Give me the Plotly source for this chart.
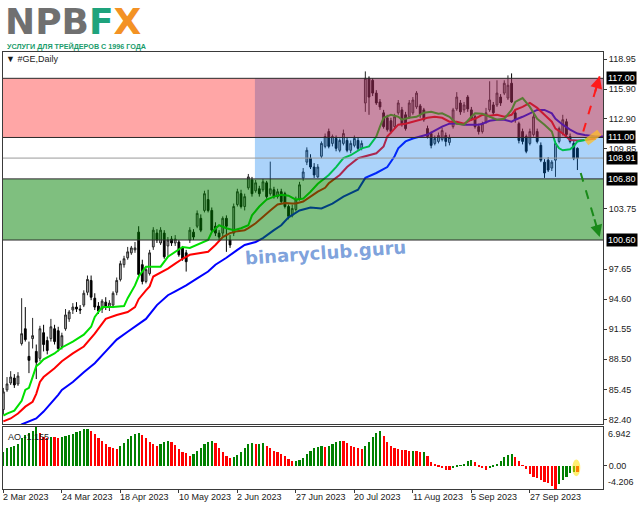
import plotly.graph_objects as go

# ---------------- data ----------------
OPEN = [83.4,85.4,86.1,86.6,86.0,90.1,91.6,88.8,90.6,89.3,
        88.6,91.2,90.4,90.6,91.6,91.4,89.8,91.6,92.6,93.5,
        93.8,93.6,94.0,95.3,96.5,94.7,93.9,93.6,94.3,93.8,
        94.0,95.3,96.6,98.1,98.8,99.3,99.6,101.4,98.1,96.4,
        97.2,99.9,101.3,100.3,101.3,100.0,100.7,100.3,100.4,99.8,
        99.3,100.6,101.4,102.0,102.8,103.6,104.7,103.6,102.0,101.3,
        101.3,102.8,100.6,101.3,104.2,105.3,104.0,105.9,106.7,105.6,
        105.8,105.7,106.4,105.3,105.7,105.0,105.5,105.3,104.0,103.1,
        103.7,104.8,106.9,108.5,108.9,108.0,107.0,109.1,110.1,111.6,
        110.4,110.9,109.7,110.4,110.7,109.7,110.2,110.7,109.9,114.5,
        117.0,116.8,115.5,114.6,113.5,113.0,112.7,112.1,113.5,113.8,
        113.3,113.1,113.5,114.1,114.2,113.8,111.9,111.4,110.4,110.6,
        110.8,111.2,110.5,112.1,113.9,114.5,113.8,115.1,113.8,113.1,
        112.1,111.6,112.6,113.8,114.3,114.3,115.1,115.5,115.0,116.5,
        113.5,112.4,111.6,111.1,110.4,111.3,111.6,110.2,108.5,108.7,
        107.9,108.7,110.6,111.4,112.6,111.1,110.4,109.9]
HIGH = [85.6,86.7,87.3,87.0,87.2,94.7,93.8,90.3,92.7,90.0,
        91.9,92.0,90.8,92.6,92.0,91.8,91.2,93.6,93.5,94.2,
        94.3,94.0,95.5,97.0,97.0,95.2,94.3,94.6,94.8,94.5,
        95.4,96.8,98.5,99.0,99.9,100.0,100.4,102.0,98.6,97.9,
        99.6,101.9,101.7,101.9,101.6,100.9,101.0,101.1,100.6,100.0,
        99.6,101.9,101.7,103.6,103.2,105.6,105.7,103.9,102.4,101.6,
        103.0,103.1,101.1,104.3,105.8,105.7,105.3,107.3,107.0,106.7,
        106.1,106.8,106.6,108.55,106.0,105.8,105.8,105.5,104.2,104.2,
        105.0,106.5,107.9,110.0,109.3,108.4,108.3,110.6,111.4,111.9,
        111.3,111.2,110.9,111.8,111.0,110.7,111.2,111.0,110.7,117.7,
        117.2,117.0,115.8,114.9,113.8,113.3,113.0,113.4,114.8,114.1,
        113.6,114.8,115.1,115.7,114.4,114.0,112.2,111.6,111.2,111.5,
        112.0,111.5,111.3,114.0,115.6,114.8,114.6,115.3,114.1,113.3,
        112.4,112.6,114.0,116.7,114.6,116.8,115.4,116.8,117.3,117.5,
        113.8,112.6,111.9,111.3,111.9,113.4,111.9,110.5,108.8,109.0,
        108.7,110.6,112.1,113.3,112.9,111.4,110.7,110.0]
LOW = [82.9,85.2,85.9,85.6,85.8,89.9,90.3,87.1,89.6,86.5,
       88.3,89.3,89.0,90.3,90.0,89.3,89.5,91.4,92.3,93.1,
       93.3,93.1,93.8,95.0,94.5,93.5,93.1,93.2,93.5,93.4,
       93.7,95.0,96.4,97.8,98.6,99.1,99.3,96.8,96.1,96.2,
       97.0,99.6,100.3,100.1,98.7,99.0,100.0,100.0,98.9,98.5,
       97.4,100.3,100.6,101.8,101.4,103.4,103.4,101.4,101.0,100.6,
       101.0,99.4,99.8,101.0,104.0,103.8,103.6,105.7,105.0,105.4,
       105.0,105.5,104.8,105.1,104.8,104.8,104.3,103.8,102.7,102.9,
       103.5,104.6,106.6,108.2,107.8,106.9,106.9,108.9,109.9,109.9,
       110.1,109.6,109.5,110.2,109.5,109.4,110.0,109.7,109.7,113.6,
       113.3,115.2,114.3,113.8,111.9,111.6,111.4,111.9,113.3,112.1,
       111.7,112.9,113.3,113.9,113.0,112.6,110.9,109.9,110.2,110.4,
       110.6,110.1,110.2,111.9,113.7,113.3,113.5,113.6,112.7,111.9,
       111.3,111.4,112.4,113.6,113.2,114.1,114.2,115.3,114.8,114.5,
       112.5,110.4,110.3,109.4,110.2,111.1,110.4,108.5,106.9,107.5,
       107.6,107.0,110.4,111.2,111.1,110.4,108.7,107.7]
CLOSE = [85.2,86.0,86.7,85.9,86.8,91.1,90.5,88.4,90.9,88.2,
         91.6,90.0,89.4,91.8,90.3,89.6,90.9,93.0,93.3,93.8,
         93.6,93.5,95.2,96.6,94.8,93.8,93.4,94.4,93.8,94.2,
         95.2,96.5,98.2,98.7,99.4,99.8,99.8,97.1,96.4,97.6,
         99.3,101.6,100.6,101.6,98.9,100.6,100.3,100.7,99.1,98.7,
         98.4,101.6,100.9,103.3,101.6,105.3,103.6,101.6,101.3,100.9,
         102.8,102.0,100.1,104.0,105.5,104.0,105.0,107.0,105.3,106.4,
         105.3,106.5,105.0,105.8,105.0,105.5,104.5,104.0,103.0,103.8,
         104.7,106.2,107.5,109.7,108.0,107.2,108.0,110.4,111.1,110.1,
         111.1,109.9,110.7,111.4,109.7,110.4,110.9,109.9,110.4,117.0,
         115.1,115.5,114.5,114.1,112.1,111.8,111.6,113.1,114.5,112.3,
         111.9,114.5,114.8,115.5,113.4,112.8,111.1,110.2,110.9,111.2,
         111.7,110.6,111.0,113.8,115.1,113.6,114.3,113.9,112.9,112.1,
         111.6,112.4,113.5,114.8,113.5,115.5,114.5,116.5,116.3,114.6,
         112.8,110.7,110.6,109.6,111.6,113.1,110.6,108.7,107.4,107.7,
         108.5,110.4,111.9,112.8,111.3,110.6,108.9,108.91]

GREEN_BARS = [0,1,3,5,6,7,8,9,10,11,14,16,19,22,24,25,26,27,30,33,
              34,36,37,39,41,43,45,47,49,51,53,56,57,59,61,63,65,67,68,70,
              72,74,76,78,80,82,84,86,88,89,91,93,95,97,98,100,102,103,104,106,
              108,109,111,113,115,117,119,120,122,124,126,128,129,131,133,135,137,139,140,142,
              144,146,148,150,151,152,153,155,156,157,159,160]
GREEN_VALS = [82.8,83.0,83.3,84.3,85.4,85.6,86.7,87.8,88.1,88.5,89.1,89.7,90.3,91.0,91.8,92.8,93.3,93.8,93.8,93.9,
              94.7,96.0,96.9,97.9,97.9,97.9,98.9,99.4,99.9,99.8,100.1,100.6,101.4,102.1,101.8,101.6,101.8,102.1,103.1,104.0,
              104.7,105.0,105.2,105.1,104.7,104.8,105.5,106.3,106.9,107.2,108.0,108.9,109.2,109.7,109.9,110.1,111.1,112.1,113.0,113.3,
              113.1,112.8,113.0,113.1,113.5,113.6,113.4,113.45,113.1,112.4,112.3,113.1,113.45,113.4,113.1,112.8,112.9,113.8,114.6,115.0,
              114.1,112.9,112.3,111.6,110.4,109.9,109.7,109.8,110.1,110.6,110.75,110.9]

RED_BARS = [0,2,4,6,8,9,10,11,14,16,19,22,25,27,28,31,34,36,37,39,
            40,41,43,45,47,49,51,54,56,58,60,62,64,66,67,69,71,73,75,77,
            79,80,82,84,86,88,89,92,94,97,99,102,104,105,107,108,110,112,114,116,
            118,120,122,124,126,128,129,131,133,135,137,139,140,142,144,146,148,150,151,153,
            155,157,159,160,162]
RED_VALS = [82.2,82.5,83.0,83.7,84.2,85.0,86.2,86.7,87.6,88.3,89.1,89.8,91.1,92.1,92.6,93.0,93.3,93.8,94.6,95.5,
            95.9,96.9,97.3,97.7,98.2,98.7,99.1,99.25,99.4,100.1,100.9,101.3,101.5,101.6,101.8,102.3,103.0,103.6,104.2,104.35,
            104.3,104.3,104.5,105.0,105.5,105.9,106.35,107.2,108.0,108.9,109.1,109.4,110.1,111.1,111.9,112.3,112.4,112.6,112.8,113.0,
            113.1,113.0,112.6,112.6,112.4,112.8,112.9,113.3,113.2,113.3,113.1,113.3,113.8,114.1,114.5,114.0,113.3,112.6,111.9,111.4,
            110.75,110.7,110.75,110.8,110.9]

BLUE_BARS = [0,3,5,7,9,11,13,15,16,19,22,25,28,31,34,36,39,42,45,47,
             50,53,56,58,61,64,66,69,71,74,76,78,81,84,87,90,93,97,99,102,
             105,107,108,110,112,114,116,118,120,122,124,126,128,130,131,133,135,137,139,140,
             142,144,146,148,150,151,153,155,157,159,160,162,165]
BLUE_VALS = [80.6,81.3,81.9,82.2,82.5,83.2,84.0,84.9,85.4,86.2,87.2,88.1,89.3,90.5,91.3,91.8,92.6,94.0,95.0,95.4,
             96.0,96.7,97.4,98.1,98.8,99.6,100.1,100.4,100.8,101.6,102.1,102.9,103.6,103.9,103.8,104.3,105.0,105.7,106.9,107.4,
             108.0,109.1,109.9,110.6,110.9,111.1,111.3,111.7,112.1,112.4,112.45,112.3,112.3,112.3,112.4,112.7,112.8,112.8,112.6,112.8,
             113.1,113.45,113.8,113.8,113.45,112.9,112.3,111.8,111.4,111.25,111.2,111.1,111.1]

AO = [2.5,3.1,3.4,3.6,3.9,4.9,5.5,5.9,6.3,6.942,
      5.9,5.2,4.9,5.2,5.1,5.0,5.2,5.3,5.5,5.7,
      6.0,6.3,6.5,6.6,6.2,5.6,5.0,4.4,3.8,3.4,
      3.1,3.05,3.6,4.1,4.8,5.4,5.7,5.9,5.5,4.9,
      4.3,3.9,3.6,3.8,4.2,4.4,4.2,3.7,3.0,2.5,
      2.2,1.8,2.0,2.6,3.2,3.9,4.3,4.5,4.0,3.2,
      2.4,1.7,1.3,1.6,1.9,2.4,3.1,3.8,4.0,3.8,
      3.9,4.0,3.6,3.1,2.7,2.4,2.0,1.7,1.2,0.8,
      0.85,1.0,1.4,2.0,2.7,3.2,3.4,3.45,3.3,3.5,
      3.9,4.3,4.5,4.4,4.0,3.6,3.3,3.1,2.9,3.5,
      4.3,5.1,5.8,6.3,5.4,4.3,3.6,3.2,3.0,2.85,
      2.75,2.65,2.7,2.6,2.45,2.5,1.7,0.7,0.2,-0.2,
      -0.5,-0.7,-0.8,-0.45,-0.2,0.1,0.35,0.9,1.0,0.6,
      -0.1,-0.45,-0.8,-0.45,-0.2,0.2,0.8,1.5,1.9,2.1,
      1.5,0.8,0.1,-0.6,-1.5,-2.0,-2.3,-2.6,-2.9,-3.2,
      -3.7,-4.206,-3.3,-2.6,-2.0,-1.4,-1.1,-1.155]

DATE_BARS = [0, 16, 32, 48, 64, 80, 96, 112, 128, 144]
DATE_LABELS = ["2 Mar 2023", "24 Mar 2023", "18 Apr 2023", "10 May 2023", "2 Jun 2023",
               "27 Jun 2023", "20 Jul 2023", "11 Aug 2023", "5 Sep 2023", "27 Sep 2023"]

PRICE_TICKS = [118.95, 115.90, 112.90, 109.85, 103.75, 97.65, 94.60, 91.55, 88.50, 85.45, 82.40]
PRICE_BOXES = [117.00, 111.00, 108.91, 106.80, 100.60]
LAST_PRICE = 108.91
AO_MAX, AO_MIN = 6.942, -4.206

RED_ZONE = (111.0, 117.0)
BLUE_ZONE = (106.8, 117.0)
BLUE_ZONE_START = 68.8
GREEN_ZONE = (100.6, 106.8)
UP_ARROW = ((158.6, 111.6), (163.1, 117.2))
DOWN_ARROW = ((157.9, 107.4), (163.1, 100.9))

# ---------------- geometry ----------------
W, H = 639, 508
ML, MR, MT, MB = 3, 36, 52, 19
PW, PH = W - ML - MR, H - MT - MB
MAIN_BOTTOM_PX, AO_TOP_PX = 424, 427
X_MIN, X_MAX = -0.1, 164.0
Y_MIN, Y_MAX = 81.94, 119.67

def px(xp):
    return (xp - ML) / PW

def py(yp):
    return (H - MB - yp) / PH

FONT = "Liberation Sans, Arial, sans-serif"
FRAME = "#3a3a3a"

fig = go.Figure()

fig.add_trace(go.Candlestick(
    x=list(range(len(CLOSE))), open=OPEN, high=HIGH, low=LOW, close=CLOSE,
    xaxis="x", yaxis="y", whiskerwidth=0,
    increasing=dict(line=dict(color="#262626", width=1), fillcolor="#b4b4b4"),
    decreasing=dict(line=dict(color="#000000", width=1), fillcolor="#000000"),
    showlegend=False, hoverinfo="skip"))

for bars, vals, col in [(BLUE_BARS, BLUE_VALS, "#0000ff"),
                        (RED_BARS, RED_VALS, "#ff0000"),
                        (GREEN_BARS, GREEN_VALS, "#00e000")]:
    fig.add_trace(go.Scatter(x=bars, y=vals, mode="lines", xaxis="x", yaxis="y",
                             line=dict(color=col, width=2), showlegend=False, hoverinfo="skip"))

ao_colors = ["#008000" if (i == 0 or AO[i] > AO[i - 1]) else "#ff0000" for i in range(len(AO))]
fig.add_trace(go.Bar(x=list(range(len(AO))), y=AO, marker=dict(color=ao_colors, line=dict(width=0)),
                     width=0.6, xaxis="x2", yaxis="y2", showlegend=False, hoverinfo="skip"))

shapes = []
shapes.append(dict(type="rect", xref="x", yref="y", x0=BLUE_ZONE_START, x1=X_MAX,
                   y0=BLUE_ZONE[0], y1=BLUE_ZONE[1], fillcolor="rgba(0,120,240,0.33)",
                   line=dict(width=0), layer="above"))
shapes.append(dict(type="rect", xref="x domain", yref="y", x0=0, x1=1,
                   y0=RED_ZONE[0], y1=RED_ZONE[1], fillcolor="rgba(255,0,0,0.35)",
                   line=dict(width=0), layer="above"))
shapes.append(dict(type="rect", xref="x domain", yref="y", x0=0, x1=1,
                   y0=GREEN_ZONE[0], y1=GREEN_ZONE[1], fillcolor="rgba(0,128,0,0.5)",
                   line=dict(width=0), layer="above"))
shapes.append(dict(type="line", xref="x domain", yref="y", x0=0, x1=1, y0=LAST_PRICE, y1=LAST_PRICE,
                   line=dict(color="#9a9a9a", width=1), layer="above"))
for lvl in sorted(set(RED_ZONE + BLUE_ZONE + GREEN_ZONE)):
    shapes.append(dict(type="line", xref="x domain", yref="y", x0=0, x1=1, y0=lvl, y1=lvl,
                       line=dict(color="#2a2a2a", width=1), layer="above"))
shapes.append(dict(type="line", xref="x", yref="y", x0=159.4, y0=110.5, x1=163.0, y1=111.5,
                   line=dict(color="rgba(255,190,40,0.75)", width=7), layer="above"))
for (a, b), col in [(UP_ARROW, "#ff1a1a"), (DOWN_ARROW, "#1a8a1a")]:
    shapes.append(dict(type="line", xref="x", yref="y", x0=a[0], y0=a[1], x1=b[0], y1=b[1],
                       line=dict(color=col, width=2, dash="dash"), layer="above"))
shapes.append(dict(type="circle", xref="x2", yref="y2", x0=155.6, x1=157.8, y0=-1.9, y1=1.1,
                   fillcolor="rgba(255,225,0,0.55)", line=dict(width=0), layer="above"))

annotations = []
for (a, b), col in [(UP_ARROW, "#ff1a1a"), (DOWN_ARROW, "#1a8a1a")]:
    annotations.append(dict(x=b[0], y=b[1], xref="x", yref="y",
                            ax=b[0] - (b[0] - a[0]) * 0.3, ay=b[1] - (b[1] - a[1]) * 0.3,
                            axref="x", ayref="y", text="", showarrow=True,
                            arrowhead=2, arrowsize=1.2, arrowwidth=2, arrowcolor=col))
for v in PRICE_BOXES:
    annotations.append(dict(x=1, y=v, xref="paper", yref="y", xanchor="left", xshift=3,
                            text=f"{v:.2f}", showarrow=False, bgcolor="#000000",
                            font=dict(family=FONT, size=9, color="#ffffff"), borderpad=1))
annotations.append(dict(x=1, y=AO_MAX, xref="paper", yref="y2", xanchor="left", yanchor="top",
                        xshift=3, text=f"{AO_MAX:.3f}", showarrow=False,
                        font=dict(family=FONT, size=9, color="#1a1a1a")))
annotations.append(dict(x=1, y=AO_MIN, xref="paper", yref="y2", xanchor="left", yanchor="bottom",
                        xshift=3, text=f"{AO_MIN:.3f}", showarrow=False,
                        font=dict(family=FONT, size=9, color="#1a1a1a")))
for b, lab in zip(DATE_BARS, DATE_LABELS):
    annotations.append(dict(x=b, y=0, xref="x2", yref="paper", xanchor="left", yanchor="top",
                            xshift=-2, yshift=-1, text=lab, showarrow=False,
                            font=dict(family=FONT, size=9, color="#1a1a1a")))
annotations.append(dict(x=px(6), y=py(437), xref="paper", yref="paper", xanchor="left",
                        yanchor="middle", text=f"AO {AO[-1]:.3f}", showarrow=False,
                        font=dict(family=FONT, size=9, color="#1a1a1a")))
annotations.append(dict(x=px(4), y=py(59), xref="paper", yref="paper", xanchor="left",
                        yanchor="middle", text="▼ #GE,Daily", showarrow=False,
                        font=dict(family=FONT, size=9, color="#1a1a1a")))
annotations.append(dict(x=px(325), y=py(253), xref="paper", yref="paper", xanchor="center",
                        yanchor="middle", text="<b>binaryclub.guru</b>", showarrow=False,
                        textangle=-4,
                        font=dict(family="DejaVu Sans", size=18, color="rgba(110,150,215,0.9)")))
annotations.append(dict(x=px(4), y=py(0), xref="paper", yref="paper", xanchor="left",
                        yanchor="top", borderpad=0,
                        text="<b><span style='color:#707070'>NPB</span><span style='color:#1ea37c'>F</span><span style='color:#f39224'>X</span></b>",
                        showarrow=False, font=dict(family="DejaVu Sans", size=36, color="#707070")))
annotations.append(dict(x=px(6), y=py(46.5), xref="paper", yref="paper", xanchor="left",
                        yanchor="middle", borderpad=0, text="<b>УСЛУГИ ДЛЯ ТРЕЙДЕРОВ С 1996 ГОДА</b>",
                        showarrow=False,
                        font=dict(family="Liberation Sans, Arial, sans-serif",
                                  size=7.2, color="#1a9c6c")))

main_dom0 = (H - MB - MAIN_BOTTOM_PX) / PH
ao_dom1 = (H - MB - AO_TOP_PX) / PH

axis_common = dict(showline=True, mirror=True, linecolor=FRAME, linewidth=1,
                   showgrid=False, zeroline=False)

fig.update_layout(
    width=W, height=H, margin=dict(l=ML, r=MR, t=MT, b=MB, autoexpand=False),
    paper_bgcolor="#ffffff", plot_bgcolor="#ffffff",
    showlegend=False, shapes=shapes, annotations=annotations, bargap=0,
    xaxis=dict(domain=[0, 1], anchor="y", range=[X_MIN, X_MAX], showticklabels=False,
               ticks="", rangeslider=dict(visible=False), automargin=False, **axis_common),
    yaxis=dict(domain=[main_dom0, 1], anchor="x", side="right", range=[Y_MIN, Y_MAX],
               tickvals=PRICE_TICKS, ticktext=[f"{v:.2f}" for v in PRICE_TICKS],
               ticks="outside", ticklen=3, tickcolor=FRAME, automargin=False,
               tickfont=dict(family=FONT, size=9, color="#1a1a1a"), **axis_common),
    xaxis2=dict(domain=[0, 1], anchor="y2", range=[X_MIN, X_MAX], tickvals=DATE_BARS,
                showticklabels=False, ticks="outside", ticklen=3, tickcolor=FRAME,
                automargin=False, **axis_common),
    yaxis2=dict(domain=[0, ao_dom1], anchor="x2", side="right", range=[AO_MIN, AO_MAX],
                tickvals=[0], ticktext=["0.00"], ticks="outside", ticklen=3, tickcolor=FRAME,
                automargin=False,
                tickfont=dict(family=FONT, size=9, color="#1a1a1a"), **axis_common),
)

fig.write_html("out.html", config={"displayModeBar": False},
               post_script="document.body.style.margin='0px';document.body.style.padding='0px';"
                           "document.documentElement.style.overflow='hidden';")
